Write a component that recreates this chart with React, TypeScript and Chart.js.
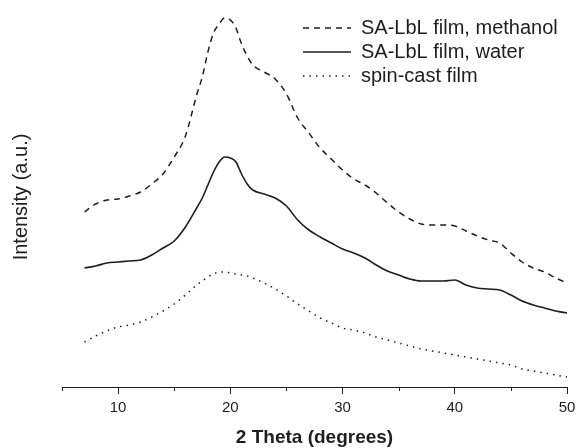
import { useEffect, useRef } from "react";
import { Chart, registerables } from "chart.js";

Chart.register(...registerables);

// 2θ positions (degrees)
const twoTheta = [
  7, 8, 9, 10, 11, 12, 13, 14, 15, 16, 17, 17.5, 18, 18.5, 19, 19.5, 20, 20.5, 21, 21.5,
  22, 23, 24, 25, 26, 27, 28, 29, 30, 31, 32, 33, 34, 35, 36, 37, 38, 39, 40, 41, 42, 43,
  44, 45, 46, 47, 48, 49, 50,
];

// Intensities (arbitrary units, curves offset vertically)
const methanol = [
  175, 183, 187, 188, 191, 195, 203, 213, 230, 251, 292, 310, 335, 354, 363, 369, 367, 359, 343, 331,
  322, 315, 308, 293, 269, 254, 239, 228, 217, 208, 202, 194, 184, 175, 168, 163, 162, 162, 161, 156, 151, 147,
  144, 134, 125, 119, 115, 109, 104,
];
const water = [
  119, 121, 124, 125, 126, 127, 132, 139, 146, 160, 179, 189, 202, 215, 225, 230, 229, 225, 213, 203,
  197, 193, 189, 181, 167, 157, 150, 144, 138, 134, 129, 122, 116, 112, 108, 106, 106, 106, 107, 102, 99, 98,
  97, 92, 86, 82, 79, 76, 74,
];
const spinCast = [
  45, 51, 56, 60, 62, 65, 70, 76, 83, 92, 102, 106, 110, 113, 115, 115, 114, 113, 112, 111,
  109, 104, 98, 91, 83, 76, 69, 64, 59, 57, 54, 50, 47, 44, 41, 38, 36, 34, 32, 30, 28, 26,
  24, 22, 18, 16, 14, 12, 10,
];

const seriesLabels = ["SA-LbL film, methanol", "SA-LbL film, water", "spin-cast film"];
const xMajorTicks = [10, 20, 30, 40, 50];
const xMinorTicks = [5, 15, 25, 35, 45];

const INK = "#1e1e1e";
const FONT = "'Liberation Sans', Arial, Helvetica, sans-serif";

export default function App() {
  const ref = useRef<HTMLCanvasElement | null>(null);

  useEffect(() => {
    document.body.style.margin = "0";
    const canvas = ref.current;
    if (!canvas) return;

    const toPts = (ys: number[]) => twoTheta.map((x, i) => ({ x, y: ys[i] }));

    const minorTicks = {
      id: "minorTicks",
      afterDraw(chart: any) {
        const xs = chart.scales.x;
        const c = chart.ctx;
        c.save();
        c.strokeStyle = INK;
        c.lineWidth = 1;
        const y0 = chart.chartArea.bottom;
        xMinorTicks.forEach((v) => {
          const px = Math.round(xs.getPixelForValue(v)) + 0.5;
          c.beginPath();
          c.moveTo(px, y0);
          c.lineTo(px, y0 + 4);
          c.stroke();
        });
        c.restore();
      },
    };

    const legendPlace = {
      id: "legendPlace",
      afterLayout(chart: any) {
        const lg = chart.legend;
        if (!lg) return;
        const w = lg.width;
        const h = lg.height;
        lg.left = 299;
        lg.right = 299 + w;
        lg.top = 14;
        lg.bottom = 14 + h;
      },
    };

    const baseGen = (Chart as any).defaults.plugins.legend.labels.generateLabels;

    const chart = new Chart(canvas, {
      type: "line",
      data: {
        datasets: [
          {
            label: seriesLabels[0],
            data: toPts(methanol),
            borderColor: INK,
            backgroundColor: INK,
            borderWidth: 1.5,
            borderDash: [6, 5],
            pointRadius: 0,
            cubicInterpolationMode: "monotone",
          },
          {
            label: seriesLabels[1],
            data: toPts(water),
            borderColor: INK,
            backgroundColor: INK,
            borderWidth: 1.6,
            pointRadius: 0,
            cubicInterpolationMode: "monotone",
          },
          {
            label: seriesLabels[2],
            data: toPts(spinCast),
            borderColor: INK,
            backgroundColor: INK,
            borderWidth: 1.5,
            borderDash: [1.5, 5],
            pointRadius: 0,
            cubicInterpolationMode: "monotone",
          },
        ],
      },
      options: {
        responsive: false,
        animation: false,
        devicePixelRatio: 1,
        layout: { padding: { left: 0, right: 9, top: 7, bottom: 0 } },
        plugins: {
          legend: {
            position: "chartArea",
            align: "start",
            labels: {
              usePointStyle: true,
              pointStyle: "line",
              pointStyleWidth: 48,
              padding: 4,
              color: INK,
              font: { family: FONT, size: 20 },
              generateLabels: (ch: any) =>
                baseGen(ch).map((it: any) => {
                  const ds = ch.data.datasets[it.datasetIndex];
                  return {
                    ...it,
                    pointStyle: "line",
                    strokeStyle: ds.borderColor,
                    lineWidth: ds.borderWidth,
                    lineDash: ds.borderDash || [],
                  };
                }),
            },
          },
          tooltip: { enabled: false },
        },
        scales: {
          x: {
            type: "linear",
            min: 5,
            max: 50,
            afterFit(scale: any) {
              scale.height = 61;
              scale.paddingLeft = 0;
              scale.paddingRight = 0;
            },
            border: { display: true, color: INK, width: 1 },
            grid: {
              display: true,
              drawOnChartArea: false,
              drawTicks: true,
              tickLength: 7,
              tickColor: (ctx: any) =>
                ctx.tick && xMajorTicks.includes(ctx.tick.value) ? INK : "rgba(0,0,0,0)",
            },
            ticks: {
              stepSize: 5,
              padding: 5,
              color: INK,
              font: { family: FONT, size: 15 },
              maxRotation: 0,
              autoSkip: false,
              callback: (v: any) => (xMajorTicks.includes(Number(v)) ? String(v) : ""),
            },
            title: {
              display: true,
              text: "2 Theta (degrees)",
              color: INK,
              font: { family: FONT, size: 19, weight: "bold", lineHeight: 1 },
              padding: { top: 0, bottom: 1 },
            },
          },
          y: {
            min: 0,
            max: 380,
            afterFit(scale: any) {
              scale.width = 62;
            },
            border: { display: false },
            grid: { display: false, drawTicks: false },
            ticks: { display: false },
            title: {
              display: true,
              text: "Intensity (a.u.)",
              color: INK,
              font: { family: FONT, size: 20, lineHeight: 1.2 },
              padding: { top: 9, bottom: 0 },
            },
          },
        },
      },
      plugins: [minorTicks, legendPlace],
    } as any);

    return () => chart.destroy();
  }, []);

  return (
    <div style={{ width: 576, height: 448, background: "#fff" }}>
      <canvas ref={ref} width={576} height={448} style={{ display: "block" }} />
    </div>
  );
}
